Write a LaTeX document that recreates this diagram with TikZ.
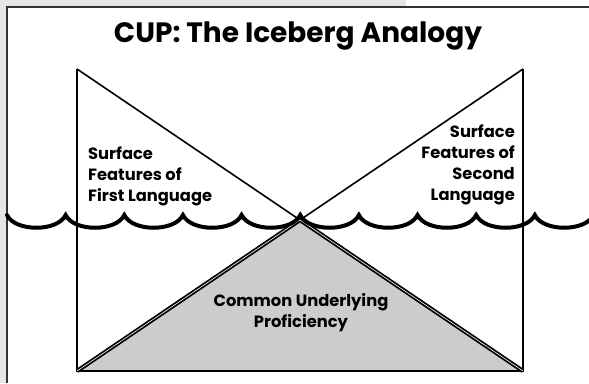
\documentclass[tikz,border=0pt]{standalone}
\usepackage{fontspec}
\setmainfont{Poppins}
\usetikzlibrary{calc}
\definecolor{pagegray}{RGB}{230,230,230}
\definecolor{cupgray}{RGB}{204,204,204}
\tikzset{
  frame_line/.style = {draw=black!80, line width=1.4pt},
  side_line/.style = {draw=black, line width=1.6pt},
  cup_edge/.style = {draw=black, double=white, double distance=0.6pt, line width=1.8pt},
  wave_line/.style = {draw=black, line width=4pt, line cap=round},
  lbl_txt/.style = {inner sep=0pt, font=\fontsize{16.3}{21}\selectfont\bfseries},
  title_txt/.style = {inner sep=0pt, font=\fontsize{28}{32}\selectfont\bfseries}
}

\begin{document}
\begin{tikzpicture}[x=1pt, y=-1pt]
\useasboundingbox (0,0) rectangle (589,383);
% page and frame
\fill[pagegray] (0,0) rectangle (589,383);
\fill[white] (406,0) rectangle (589,7);
\fill[white] (7,7) rectangle (589,383);
\draw[frame_line] (7,383) -- (7,7) -- (589,7);

\coordinate (tl) at (77,69);
\coordinate (tr) at (523,69);
\coordinate (bl) at (77,371);
\coordinate (br) at (523,371);
\coordinate (apex) at (300,220);

% underlying proficiency
\fill[cupgray] (bl) -- (apex) -- (br) -- cycle;
\draw[side_line] (tl) -- (bl) -- (br) -- (tr);
\draw[side_line] (tl) -- ($(tl)!1.03!(apex)$);
\draw[side_line] (tr) -- ($(tr)!1.03!(apex)$);
\draw[cup_edge] (bl) -- (apex) -- (br);

% water line
\draw[wave_line] (7,215)
  foreach \k [evaluate=\k as \xb using 7+58.65*\k] in {1,...,10} {
    .. controls (\xb-50.65,232) and (\xb-8,232) .. (\xb,215)
  };

\node[title_txt] (title) at (298,36) {CUP: The Iceberg Analogy};
\node[lbl_txt, anchor=west, align=left] (first) at (88,176)
  {Surface\\Features of\\First Language};
\node[lbl_txt, anchor=east, align=right] (second) at (515,165)
  {Surface\\Features of\\Second\\Language};
\node[lbl_txt, align=center] (cup) at (301,313)
  {Common Underlying\\Proficiency};
\end{tikzpicture}
\end{document}
